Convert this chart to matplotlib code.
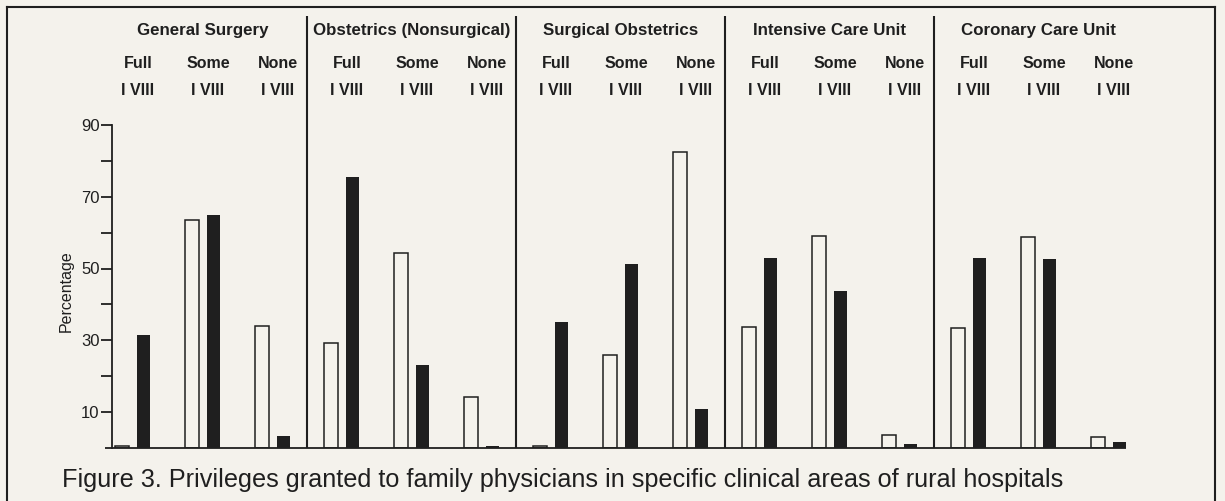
import matplotlib
matplotlib.use('Agg')
import matplotlib.pyplot as plt
from matplotlib.lines import Line2D

plt.rcParams['font.family'] = ['Liberation Sans', 'DejaVu Sans']

units = ['General Surgery', 'Obstetrics (Nonsurgical)', 'Surgical Obstetrics',
         'Intensive Care Unit', 'Coronary Care Unit']
levels = ['Full', 'Some', 'None']
series = ['I', 'VIII']

# percentages per unit, columns = Full / Some / None
vals_i = [[0.5, 63.5, 34.1],
          [29.3, 54.4, 14.3],
          [0.5, 25.9, 82.4],
          [33.8, 59.1, 3.6],
          [33.5, 58.7, 3.0]]
vals_viii = [[31.6, 64.9, 3.3],
             [75.6, 23.1, 0.5],
             [35.2, 51.2, 10.8],
             [53.0, 43.8, 1.0],
             [52.8, 52.6, 1.8]]

yticks = [10, 20, 30, 40, 50, 60, 70, 80, 90]
ytick_labels = ['10', '', '30', '', '50', '', '70', '', '90']
caption = 'Figure 3. Privileges granted to family physicians in specific clinical areas of rural hospitals'

paper = '#f4f2ec'
ink = '#1f1f1f'

W, H = 1225, 501
fig = plt.figure(figsize=(W / 100, H / 100), dpi=100, facecolor=paper)
ax = fig.add_axes([112 / W, (H - 448) / H, (1215 - 112) / W, (448 - 7) / H])
ax.set_facecolor('none')
ax.set_ylim(0, (448 - 7) / 3.59)
ax.set_xlim(-10 / 209, 1093 / 209)

step = 0.335   # Full -> Some -> None
pair = 0.103   # I -> VIII
bw = 0.065

for g in range(len(units)):
    for j in range(len(levels)):
        x = g + j * step
        ax.bar(x, vals_i[g][j], bw, facecolor=paper, edgecolor=ink, lw=1.1)
        ax.bar(x + pair, vals_viii[g][j], bw, color=ink, lw=0)
        ax.text(x + pair / 2 + 0.025, 107, levels[j], ha='center', va='center',
                fontsize=11.5, weight='bold', color=ink)
        ax.text(x + pair / 2 + 0.025, 99.7, ' '.join(series), ha='center', va='center',
                fontsize=11.5, weight='bold', color=ink)
    ax.text(g + (2 * step + pair) / 2, 116.4, units[g], ha='center', va='center',
            fontsize=12.2, weight='bold', color=ink)
    if g < len(units) - 1:
        ax.vlines(g + (2 * step + pair + 1) / 2, 0, 120.3, color=ink, lw=1.5, clip_on=False)

# baseline
ax.hlines(0, -0.081, len(units) - 1 + 2 * step + pair + bw / 2, color=ink, lw=1.3, clip_on=False)

for s in ['top', 'right', 'bottom']:
    ax.spines[s].set_visible(False)
ax.spines['left'].set_bounds(0, 90)
ax.spines['left'].set_color(ink)
ax.spines['left'].set_linewidth(1.3)
ax.set_xticks([])
ax.set_yticks(yticks)
ax.set_yticklabels(ytick_labels)
ax.tick_params(axis='y', length=8, width=1.3, pad=1, labelsize=12, colors=ink)
ax.text(-0.0417, 0.356, 'Percentage', transform=ax.transAxes, rotation=90,
        ha='center', va='center', fontsize=11.5, color=ink)

# frame
for xs, ys in [([7 / W, 7 / W], [0, 1 - 7 / H]),
               ([7 / W, 1215 / W], [1 - 7 / H, 1 - 7 / H]),
               ([1215 / W, 1215 / W], [0, 1 - 7 / H])]:
    fig.add_artist(Line2D(xs, ys, transform=fig.transFigure, color=ink, lw=1.5))

fig.text(62 / W, 1 - 480 / H, caption, fontsize=18.2, ha='left', va='center', color=ink)

fig.savefig('out.png', dpi=100, facecolor=paper)
